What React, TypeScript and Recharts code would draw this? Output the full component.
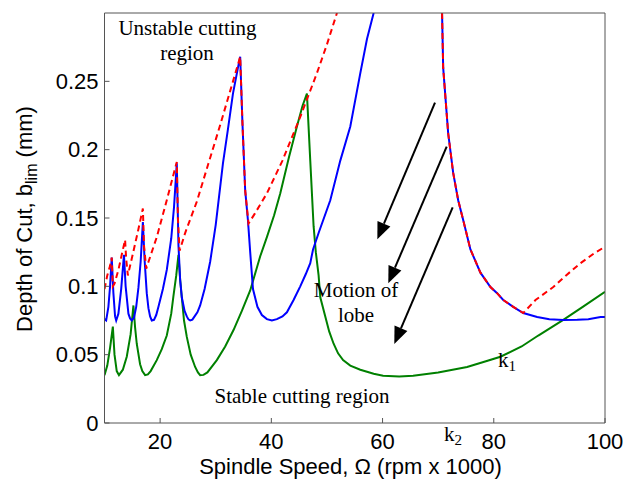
import React from "react";
import { LineChart, Line, XAxis, YAxis, ReferenceLine } from "recharts";

type Pt = [number, number | null];

const xTicks = [20, 40, 60, 80, 100];
const yTicks = [0, 0.05, 0.1, 0.15, 0.2, 0.25];

const greenPts: Pt[] = [
  [10.0, 0.035], [10.5, 0.042], [11.0, 0.055], [11.5, 0.0705], [11.8, 0.05], [12.2, 0.038],
  [12.6, 0.035], [13.3, 0.039], [14.0, 0.0485], [14.7, 0.065], [15.2, 0.086], [15.5, 0.07],
  [15.8, 0.058], [16.4, 0.043], [16.8, 0.038], [17.3, 0.035], [17.8, 0.0355], [18.3, 0.038],
  [19.4, 0.046], [20.3, 0.054], [21.2, 0.064], [22.0, 0.08], [22.4, 0.093], [22.9, 0.108],
  [23.3, 0.123], [23.6, 0.105], [23.9, 0.092], [24.3, 0.075], [24.8, 0.063], [25.5, 0.05],
  [26.3, 0.041], [26.8, 0.037], [27.2, 0.035], [27.8, 0.0352], [28.5, 0.037], [30.2, 0.046],
  [31.7, 0.056], [33.2, 0.068], [34.7, 0.082], [36.2, 0.097], [38.0, 0.122], [39.2, 0.136],
  [40.5, 0.152], [41.6, 0.168], [43.2, 0.195], [44.6, 0.217], [45.6, 0.232], [46.4, 0.241],
  [47.0, 0.192], [47.6, 0.144], [48.0, 0.125], [48.5, 0.108], [48.8, 0.092], [49.7, 0.078],
  [50.4, 0.067], [51.2, 0.058], [52.0, 0.051], [52.9, 0.046], [54.2, 0.042], [56.0, 0.039],
  [58.4, 0.036], [60.1, 0.0346], [63.0, 0.034], [65.5, 0.0346], [70.0, 0.037], [75.2, 0.041],
  [78.0, 0.0445], [81.2, 0.0485], [85.0, 0.056], [88.0, 0.064], [92.5, 0.0754], [96.0, 0.085],
  [100, 0.096],
];

const bluePts: Pt[] = [
  [10.0, 0.076], [10.3, 0.075], [10.7, 0.085], [11.0, 0.1], [11.3, 0.121], [11.6, 0.095],
  [11.9, 0.078], [12.1, 0.075], [12.5, 0.08], [13.0, 0.098], [13.5, 0.123], [13.8, 0.1],
  [14.3, 0.08], [14.6, 0.0765], [14.9, 0.075], [15.3, 0.077], [15.7, 0.085], [16.1, 0.099],
  [16.5, 0.118], [16.9, 0.147], [17.2, 0.12], [17.6, 0.095], [17.9, 0.084], [18.2, 0.078],
  [18.5, 0.075], [18.9, 0.0755], [19.3, 0.079], [19.7, 0.085], [20.5, 0.098], [21.2, 0.112],
  [22.0, 0.135], [22.5, 0.158], [23.0, 0.19], [23.3, 0.13], [23.6, 0.105], [23.9, 0.092],
  [24.4, 0.082], [24.8, 0.078], [25.1, 0.0758], [25.4, 0.075], [25.8, 0.0756], [26.2, 0.078],
  [26.7, 0.081], [27.2, 0.086], [28.0, 0.098], [29.0, 0.118], [30.0, 0.145], [31.3, 0.19],
  [32.2, 0.215], [33.1, 0.241], [34.0, 0.26], [34.4, 0.268], [34.8, 0.22], [35.3, 0.17],
  [35.8, 0.148], [36.2, 0.125], [36.7, 0.098], [37.5, 0.085], [38.3, 0.079], [39.2, 0.076],
  [40.1, 0.075], [41.0, 0.076], [42.0, 0.078], [42.8, 0.081], [44.0, 0.09], [45.2, 0.1],
  [46.2, 0.109], [47.0, 0.117], [47.5, 0.127], [48.5, 0.139], [50.6, 0.163], [52.4, 0.192],
  [54.2, 0.217], [56.0, 0.256], [57.2, 0.281], [58.4, 0.3], [64.0, null], [70.7, 0.3],
  [70.9, 0.26], [71.8, 0.212], [72.7, 0.183], [73.6, 0.163], [74.5, 0.1485], [75.8, 0.127],
  [77.6, 0.11], [79.4, 0.0995], [80.6, 0.095], [81.7, 0.09], [83.5, 0.085], [85.3, 0.0805],
  [87.8, 0.0775], [90.0, 0.076], [92.5, 0.0754], [95.0, 0.0756], [97.0, 0.076], [99.2, 0.0775],
  [100, 0.0775],
];

const redPts: Pt[] = [
  [10.0, 0.098], [10.5, 0.108], [11.0, 0.115], [11.3, 0.121], [11.5, 0.1], [11.8, 0.102],
  [12.5, 0.112], [13.2, 0.125], [13.7, 0.134], [13.9, 0.12], [14.2, 0.108], [15.0, 0.122],
  [16.0, 0.14], [16.9, 0.157], [17.1, 0.13], [17.5, 0.113], [19.4, 0.136], [21.0, 0.16],
  [23.0, 0.191], [23.2, 0.15], [23.5, 0.126], [24.5, 0.139], [26.6, 0.162], [28.7, 0.19],
  [30.8, 0.218], [32.6, 0.243], [34.4, 0.268], [34.8, 0.22], [35.3, 0.17], [35.9, 0.146],
  [37.0, 0.153], [39.2, 0.168], [42.0, 0.192], [45.2, 0.224], [48.2, 0.256], [50.0, 0.277],
  [51.8, 0.3], [62.0, null], [70.7, 0.3], [70.9, 0.26], [71.8, 0.212], [72.7, 0.183],
  [73.6, 0.163], [74.5, 0.1485], [75.8, 0.127], [77.6, 0.11], [79.4, 0.0995], [80.6, 0.095],
  [81.7, 0.09], [83.5, 0.085], [85.3, 0.0805], [87.5, 0.09], [90.7, 0.0995], [93.0, 0.108],
  [95.6, 0.117], [98.0, 0.124], [100, 0.129],
];

const arrowSegs: [number, number, number, number][] = [
  [69.43, 0.2344, 59.06, 0.1344],
  [71.53, 0.2022, 61.03, 0.1022],
  [72.61, 0.1578, 62.11, 0.0578],
];

const toData = (pts: Pt[]) => pts.map(([x, y]) => ({ x, y }));

const ArrowShape = (props: any) => {
  const { x1, y1, x2, y2 } = props;
  const dx = x2 - x1;
  const dy = y2 - y1;
  const len = Math.hypot(dx, dy) || 1;
  const ux = dx / len;
  const uy = dy / len;
  const hl = 17;
  const hw = 7;
  const bx = x2 - ux * hl;
  const by = y2 - uy * hl;
  const px = -uy;
  const py = ux;
  return (
    <g>
      <line x1={x1} y1={y1} x2={bx} y2={by} stroke="#000" strokeWidth={2} />
      <polygon
        points={`${x2},${y2} ${bx + px * hw},${by + py * hw} ${bx - px * hw},${by - py * hw}`}
        fill="#000"
      />
    </g>
  );
};

const axisColor = "#555";
const sans = "'Liberation Sans', Arial, sans-serif";
const serif = "'Liberation Serif', 'Times New Roman', serif";
const tickStyle = { fontSize: 22, fill: "#000", fontFamily: sans };

export default function App() {
  return (
    <div style={{ position: "absolute", left: 0, top: 0, width: 634, height: 479, background: "#fff" }}>
      <LineChart width={634} height={479} margin={{ top: 12, right: 28, bottom: 0, left: 0 }}>
        <XAxis
          xAxisId="b"
          dataKey="x"
          type="number"
          domain={[10, 100]}
          ticks={xTicks}
          allowDataOverflow
          height={56}
          stroke={axisColor}
          tickSize={-5}
          tickMargin={15}
          tick={tickStyle}
        />
        <XAxis
          xAxisId="t"
          orientation="top"
          dataKey="x"
          type="number"
          domain={[10, 100]}
          ticks={xTicks}
          height={1}
          stroke={axisColor}
          tickSize={-5}
          tick={false}
        />
        <YAxis
          yAxisId="l"
          type="number"
          domain={[0, 0.3]}
          ticks={yTicks}
          allowDataOverflow
          width={104.5}
          stroke={axisColor}
          tickSize={-5}
          tickMargin={11}
          tick={tickStyle}
          tickFormatter={(v: number) => String(v)}
        />
        <YAxis
          yAxisId="r"
          orientation="right"
          type="number"
          domain={[0, 0.3]}
          ticks={yTicks}
          width={1}
          stroke={axisColor}
          tickSize={-5}
          tick={false}
        />
        <Line
          xAxisId="b"
          yAxisId="l"
          data={toData(greenPts)}
          dataKey="y"
          type="linear"
          stroke="#008000"
          strokeWidth={2}
          dot={false}
          isAnimationActive={false}
        />
        <Line
          xAxisId="b"
          yAxisId="l"
          data={toData(bluePts)}
          dataKey="y"
          type="linear"
          stroke="#0000ff"
          strokeWidth={2}
          dot={false}
          isAnimationActive={false}
        />
        <Line
          xAxisId="b"
          yAxisId="l"
          data={toData(redPts)}
          dataKey="y"
          type="linear"
          stroke="#ff0000"
          strokeWidth={2}
          strokeDasharray="6 4"
          dot={false}
          isAnimationActive={false}
        />
        {arrowSegs.map(([ax, ay, bx, by], i) => (
          <ReferenceLine
            key={i}
            xAxisId="b"
            yAxisId="l"
            segment={[{ x: ax, y: ay }, { x: bx, y: by }]}
            shape={ArrowShape}
            ifOverflow="visible"
          />
        ))}
      </LineChart>
      <svg
        width={634}
        height={479}
        style={{ position: "absolute", left: 0, top: 0, pointerEvents: "none" }}
      >
        <g fontFamily={serif} fontSize={21} fill="#000">
          <text x={187.5} y={35} textAnchor="middle">Unstable cutting</text>
          <text x={187} y={60} textAnchor="middle">region</text>
          <text x={356} y={297} textAnchor="middle">Motion of</text>
          <text x={356} y={322} textAnchor="middle">lobe</text>
          <text x={302} y={403} textAnchor="middle">Stable cutting region</text>
          <text x={498} y={367}>
            k<tspan fontSize={15} dy={4}>1</tspan>
          </text>
          <text x={444} y={441}>
            k<tspan fontSize={15} dy={4}>2</tspan>
          </text>
        </g>
        <g fontFamily={sans} fontSize={22} fill="#000">
          <text x={350.5} y={474} textAnchor="middle">Spindle Speed, Ω (rpm x 1000)</text>
          <text transform="translate(32,219) rotate(-90)" textAnchor="middle">
            Depth of Cut, b<tspan fontSize={16} dy={5}>lim</tspan>
            <tspan dy={-5}> (mm)</tspan>
          </text>
        </g>
      </svg>
    </div>
  );
}
